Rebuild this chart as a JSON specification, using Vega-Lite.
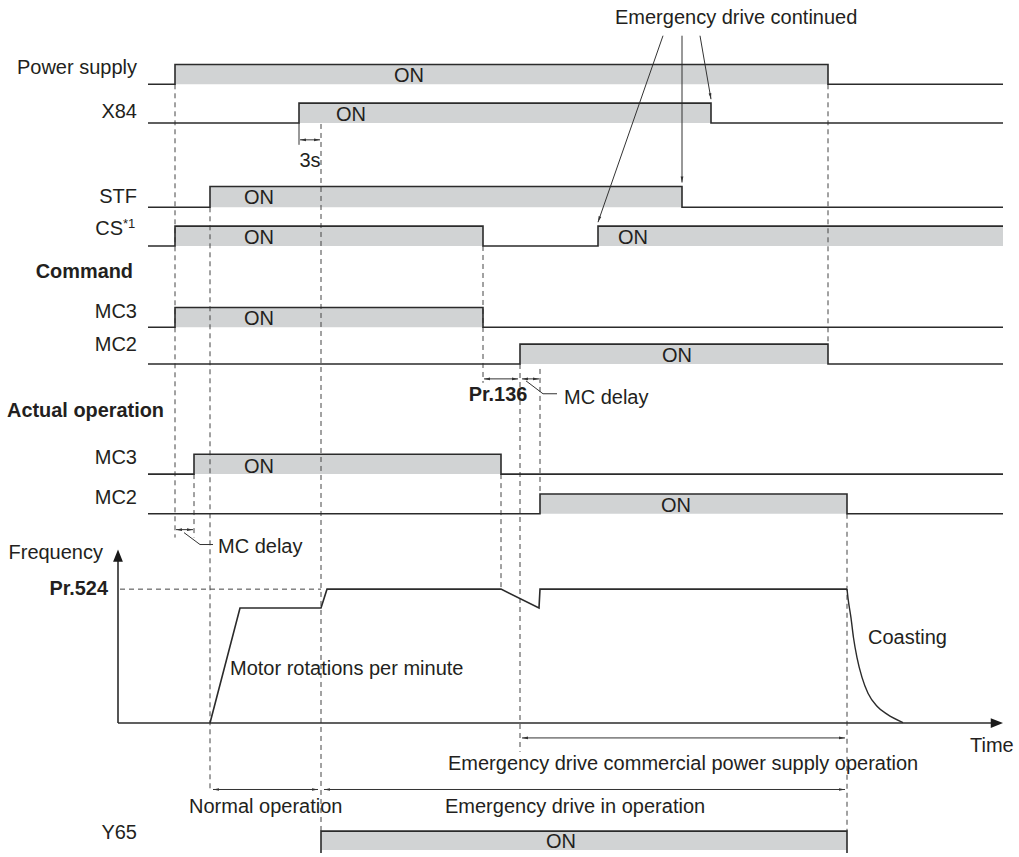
{
  "$schema": "https://vega.github.io/schema/vega-lite/v6.json",
  "width": 1019,
  "height": 857,
  "autosize": {"type": "fit", "contains": "padding"},
  "padding": 0,
  "background": "white",
  "config": {"view": {"stroke": null}, "font": "Liberation Sans"},
  "datasets": {
    "fills": [
      {"sig": "Power supply", "x": 175, "x2": 828, "y": 65, "y2": 85},
      {"sig": "X84", "x": 299, "x2": 711, "y": 104, "y2": 124},
      {"sig": "STF", "x": 210, "x2": 682, "y": 188, "y2": 209},
      {"sig": "CS", "x": 175, "x2": 483, "y": 228, "y2": 248},
      {"sig": "CS", "x": 598, "x2": 1003, "y": 228, "y2": 248},
      {"sig": "MC3 command", "x": 175, "x2": 483, "y": 310, "y2": 330},
      {"sig": "MC2 command", "x": 520, "x2": 828, "y": 347, "y2": 367},
      {"sig": "MC3 actual", "x": 194, "x2": 501, "y": 458, "y2": 478},
      {"sig": "MC2 actual", "x": 540, "x2": 847, "y": 498, "y2": 518},
      {"sig": "Y65", "x": 321, "x2": 847, "y": 838, "y2": 857}
    ],
    "waves": [
      {"sig": "Power supply", "i": 1, "x": 148, "y": 85},
      {"sig": "Power supply", "i": 2, "x": 175, "y": 85},
      {"sig": "Power supply", "i": 3, "x": 175, "y": 65},
      {"sig": "Power supply", "i": 4, "x": 828, "y": 65},
      {"sig": "Power supply", "i": 5, "x": 828, "y": 85},
      {"sig": "Power supply", "i": 6, "x": 1003, "y": 85},
      {"sig": "X84", "i": 1, "x": 148, "y": 124},
      {"sig": "X84", "i": 2, "x": 299, "y": 124},
      {"sig": "X84", "i": 3, "x": 299, "y": 104},
      {"sig": "X84", "i": 4, "x": 711, "y": 104},
      {"sig": "X84", "i": 5, "x": 711, "y": 124},
      {"sig": "X84", "i": 6, "x": 1003, "y": 124},
      {"sig": "STF", "i": 1, "x": 148, "y": 209},
      {"sig": "STF", "i": 2, "x": 210, "y": 209},
      {"sig": "STF", "i": 3, "x": 210, "y": 188},
      {"sig": "STF", "i": 4, "x": 682, "y": 188},
      {"sig": "STF", "i": 5, "x": 682, "y": 209},
      {"sig": "STF", "i": 6, "x": 1003, "y": 209},
      {"sig": "CS", "i": 1, "x": 148, "y": 248},
      {"sig": "CS", "i": 2, "x": 175, "y": 248},
      {"sig": "CS", "i": 3, "x": 175, "y": 228},
      {"sig": "CS", "i": 4, "x": 483, "y": 228},
      {"sig": "CS", "i": 5, "x": 483, "y": 248},
      {"sig": "CS", "i": 6, "x": 598, "y": 248},
      {"sig": "CS", "i": 7, "x": 598, "y": 228},
      {"sig": "CS", "i": 8, "x": 1003, "y": 228},
      {"sig": "MC3 command", "i": 1, "x": 148, "y": 330},
      {"sig": "MC3 command", "i": 2, "x": 175, "y": 330},
      {"sig": "MC3 command", "i": 3, "x": 175, "y": 310},
      {"sig": "MC3 command", "i": 4, "x": 483, "y": 310},
      {"sig": "MC3 command", "i": 5, "x": 483, "y": 330},
      {"sig": "MC3 command", "i": 6, "x": 1003, "y": 330},
      {"sig": "MC2 command", "i": 1, "x": 148, "y": 367},
      {"sig": "MC2 command", "i": 2, "x": 520, "y": 367},
      {"sig": "MC2 command", "i": 3, "x": 520, "y": 347},
      {"sig": "MC2 command", "i": 4, "x": 828, "y": 347},
      {"sig": "MC2 command", "i": 5, "x": 828, "y": 367},
      {"sig": "MC2 command", "i": 6, "x": 1003, "y": 367},
      {"sig": "MC3 actual", "i": 1, "x": 148, "y": 478},
      {"sig": "MC3 actual", "i": 2, "x": 194, "y": 478},
      {"sig": "MC3 actual", "i": 3, "x": 194, "y": 458},
      {"sig": "MC3 actual", "i": 4, "x": 501, "y": 458},
      {"sig": "MC3 actual", "i": 5, "x": 501, "y": 478},
      {"sig": "MC3 actual", "i": 6, "x": 1003, "y": 478},
      {"sig": "MC2 actual", "i": 1, "x": 148, "y": 518},
      {"sig": "MC2 actual", "i": 2, "x": 540, "y": 518},
      {"sig": "MC2 actual", "i": 3, "x": 540, "y": 498},
      {"sig": "MC2 actual", "i": 4, "x": 847, "y": 498},
      {"sig": "MC2 actual", "i": 5, "x": 847, "y": 518},
      {"sig": "MC2 actual", "i": 6, "x": 1003, "y": 518},
      {"sig": "Y65", "i": 1, "x": 321, "y": 860},
      {"sig": "Y65", "i": 2, "x": 321, "y": 838},
      {"sig": "Y65", "i": 3, "x": 847, "y": 838},
      {"sig": "Y65", "i": 4, "x": 847, "y": 860},
      {"sig": "Frequency", "i": 1, "x": 210, "y": 729},
      {"sig": "Frequency", "i": 2, "x": 240, "y": 613},
      {"sig": "Frequency", "i": 3, "x": 321, "y": 613},
      {"sig": "Frequency", "i": 4, "x": 327, "y": 594},
      {"sig": "Frequency", "i": 5, "x": 501, "y": 594},
      {"sig": "Frequency", "i": 6, "x": 539, "y": 613},
      {"sig": "Frequency", "i": 7, "x": 540, "y": 594},
      {"sig": "Frequency", "i": 8, "x": 847, "y": 594}
    ],
    "coast": [
      {"x": 847, "y": 594},
      {"x": 848, "y": 603},
      {"x": 851, "y": 623},
      {"x": 853.5, "y": 643},
      {"x": 857, "y": 663},
      {"x": 862, "y": 683},
      {"x": 868, "y": 699},
      {"x": 877, "y": 712},
      {"x": 887, "y": 720},
      {"x": 903, "y": 728.5}
    ],
    "dashes": [
      {"x": 175, "x2": 175, "y": 85, "y2": 542},
      {"x": 210, "x2": 210, "y": 209, "y2": 797},
      {"x": 321, "x2": 321, "y": 125, "y2": 838},
      {"x": 194, "x2": 194, "y": 478, "y2": 542},
      {"x": 483, "x2": 483, "y": 248, "y2": 386},
      {"x": 501, "x2": 501, "y": 478, "y2": 594},
      {"x": 520, "x2": 520, "y": 367, "y2": 758},
      {"x": 540, "x2": 540, "y": 372, "y2": 498},
      {"x": 828, "x2": 828, "y": 85, "y2": 347},
      {"x": 847, "x2": 847, "y": 518, "y2": 838},
      {"x": 120, "x2": 321, "y": 594, "y2": 594}
    ],
    "segments": [
      {"x": 299, "x2": 299, "y": 124, "y2": 146},
      {"x": 300, "x2": 320, "y": 141, "y2": 141},
      {"x": 484, "x2": 518, "y": 382, "y2": 382},
      {"x": 522, "x2": 539, "y": 382, "y2": 382},
      {"x": 176, "x2": 193, "y": 534, "y2": 534},
      {"x": 522, "x2": 845, "y": 744, "y2": 744},
      {"x": 213, "x2": 318, "y": 796, "y2": 796},
      {"x": 324, "x2": 845, "y": 796, "y2": 796},
      {"x": 526, "x2": 543, "y": 384, "y2": 397},
      {"x": 543, "x2": 557, "y": 397, "y2": 397},
      {"x": 184, "x2": 200, "y": 537, "y2": 549},
      {"x": 200, "x2": 213, "y": 549, "y2": 549},
      {"x": 663, "x2": 598, "y": 36, "y2": 224},
      {"x": 682, "x2": 682, "y": 36, "y2": 184},
      {"x": 700, "x2": 711, "y": 36, "y2": 100}
    ],
    "axes": [
      {"x": 118, "x2": 118, "y": 560, "y2": 729},
      {"x": 118, "x2": 993, "y": 729, "y2": 729}
    ],
    "heads": [
      {"x": 300, "y": 141, "ang": 270},
      {"x": 320, "y": 141, "ang": 90},
      {"x": 484, "y": 382, "ang": 270},
      {"x": 518, "y": 382, "ang": 90},
      {"x": 522, "y": 382, "ang": 270},
      {"x": 539, "y": 382, "ang": 90},
      {"x": 176, "y": 534, "ang": 270},
      {"x": 193, "y": 534, "ang": 90},
      {"x": 522, "y": 744, "ang": 270},
      {"x": 845, "y": 744, "ang": 90},
      {"x": 213, "y": 796, "ang": 270},
      {"x": 318, "y": 796, "ang": 90},
      {"x": 324, "y": 796, "ang": 270},
      {"x": 845, "y": 796, "ang": 90},
      {"x": 598, "y": 224, "ang": 199},
      {"x": 682, "y": 184, "ang": 180},
      {"x": 711, "y": 100, "ang": 170}
    ],
    "axisHeads": [
      {"x": 118, "y": 554, "ang": 0},
      {"x": 1003, "y": 729, "ang": 90}
    ],
    "labels": [
      {"role": "signal", "x": 137, "y": 69, "text": "Power supply"},
      {"role": "signal", "x": 137, "y": 113, "text": "X84"},
      {"role": "signal", "x": 137, "y": 199, "text": "STF"},
      {"role": "signal", "x": 123, "y": 231, "text": "CS"},
      {"role": "signal", "x": 137, "y": 315, "text": "MC3"},
      {"role": "signal", "x": 137, "y": 348, "text": "MC2"},
      {"role": "signal", "x": 137, "y": 462, "text": "MC3"},
      {"role": "signal", "x": 137, "y": 502, "text": "MC2"},
      {"role": "signal", "x": 137, "y": 840, "text": "Y65"},
      {"role": "signal", "x": 103, "y": 558, "text": "Frequency"},
      {"role": "header", "x": 133, "y": 274, "text": "Command"},
      {"role": "header", "x": 164, "y": 414, "text": "Actual operation"},
      {"role": "header", "x": 108, "y": 594, "text": "Pr.524"},
      {"role": "sup", "x": 123, "y": 226, "text": "*1"},
      {"role": "state", "x": 409, "y": 77, "text": "ON"},
      {"role": "state", "x": 351, "y": 116, "text": "ON"},
      {"role": "state", "x": 259, "y": 200, "text": "ON"},
      {"role": "state", "x": 259, "y": 240, "text": "ON"},
      {"role": "state", "x": 633, "y": 240, "text": "ON"},
      {"role": "state", "x": 259, "y": 322, "text": "ON"},
      {"role": "state", "x": 677, "y": 359, "text": "ON"},
      {"role": "state", "x": 259, "y": 471, "text": "ON"},
      {"role": "state", "x": 676, "y": 510, "text": "ON"},
      {"role": "state", "x": 561, "y": 849, "text": "ON"},
      {"role": "state", "x": 310, "y": 162, "text": "3s"},
      {"role": "param", "x": 498, "y": 398, "text": "Pr.136"},
      {"role": "note", "x": 615, "y": 18, "text": "Emergency drive continued"},
      {"role": "note", "x": 564, "y": 401, "text": "MC delay"},
      {"role": "note", "x": 218, "y": 552, "text": "MC delay"},
      {"role": "note", "x": 230, "y": 675, "text": "Motor rotations per minute"},
      {"role": "note", "x": 868, "y": 643, "text": "Coasting"},
      {"role": "note", "x": 970, "y": 752, "text": "Time"},
      {"role": "note", "x": 448, "y": 770, "text": "Emergency drive commercial power supply operation"},
      {"role": "note", "x": 189, "y": 814, "text": "Normal operation"},
      {"role": "note", "x": 445, "y": 814, "text": "Emergency drive in operation"}
    ]
  },
  "layer": [
    {
      "data": {"name": "fills"},
      "mark": {"type": "rect", "fill": "#d1d3d4"},
      "encoding": {
        "x": {"field": "x", "type": "quantitative", "scale": {"domain": [0, 1019], "nice": false, "zero": false}, "axis": null},
        "x2": {"field": "x2"},
        "y": {"field": "y", "type": "quantitative", "scale": {"domain": [0, 857], "nice": false, "zero": false, "reverse": true}, "axis": null},
        "y2": {"field": "y2"}
      }
    },
    {
      "data": {"name": "dashes"},
      "mark": {"type": "rule", "stroke": "#444444", "strokeWidth": 1, "strokeDash": [5, 4]},
      "encoding": {
        "x": {"field": "x", "type": "quantitative", "axis": null},
        "x2": {"field": "x2"},
        "y": {"field": "y", "type": "quantitative", "axis": null},
        "y2": {"field": "y2"}
      }
    },
    {
      "data": {"name": "segments"},
      "mark": {"type": "rule", "stroke": "#333333", "strokeWidth": 1},
      "encoding": {
        "x": {"field": "x", "type": "quantitative", "axis": null},
        "x2": {"field": "x2"},
        "y": {"field": "y", "type": "quantitative", "axis": null},
        "y2": {"field": "y2"}
      }
    },
    {
      "data": {"name": "axes"},
      "mark": {"type": "rule", "stroke": "#2b2b2b", "strokeWidth": 1.6},
      "encoding": {
        "x": {"field": "x", "type": "quantitative", "axis": null},
        "x2": {"field": "x2"},
        "y": {"field": "y", "type": "quantitative", "axis": null},
        "y2": {"field": "y2"}
      }
    },
    {
      "data": {"name": "waves"},
      "mark": {"type": "line", "stroke": "#2b2b2b", "strokeWidth": 1.6, "strokeJoin": "miter"},
      "encoding": {
        "x": {"field": "x", "type": "quantitative", "axis": null},
        "y": {"field": "y", "type": "quantitative", "axis": null},
        "detail": {"field": "sig"},
        "order": {"field": "i", "type": "quantitative"}
      }
    },
    {
      "data": {"name": "coast"},
      "mark": {"type": "line", "stroke": "#2b2b2b", "strokeWidth": 1.4, "interpolate": "monotone"},
      "encoding": {
        "x": {"field": "x", "type": "quantitative", "axis": null},
        "y": {"field": "y", "type": "quantitative", "axis": null}
      }
    },
    {
      "data": {"name": "heads"},
      "mark": {"type": "point", "shape": "M0,0L-0.45,2L0.45,2Z", "filled": true, "fill": "#333333", "strokeWidth": 0, "size": 36, "opacity": 1},
      "encoding": {
        "x": {"field": "x", "type": "quantitative", "axis": null},
        "y": {"field": "y", "type": "quantitative", "axis": null},
        "angle": {"field": "ang", "type": "quantitative", "scale": null}
      }
    },
    {
      "data": {"name": "axisHeads"},
      "mark": {"type": "point", "shape": "M0,0L-0.8,2L0.8,2Z", "filled": true, "fill": "#1a1a1a", "strokeWidth": 0, "size": 150, "opacity": 1},
      "encoding": {
        "x": {"field": "x", "type": "quantitative", "axis": null},
        "y": {"field": "y", "type": "quantitative", "axis": null},
        "angle": {"field": "ang", "type": "quantitative", "scale": null}
      }
    },
    {
      "data": {"name": "labels"},
      "transform": [{"filter": "datum.role === 'signal'"}],
      "mark": {"type": "text", "align": "right", "baseline": "middle", "fontSize": 20, "fill": "#231f20"},
      "encoding": {
        "x": {"field": "x", "type": "quantitative", "axis": null},
        "y": {"field": "y", "type": "quantitative", "axis": null},
        "text": {"field": "text"}
      }
    },
    {
      "data": {"name": "labels"},
      "transform": [{"filter": "datum.role === 'header'"}],
      "mark": {"type": "text", "align": "right", "baseline": "middle", "fontSize": 19.9, "fontWeight": "bold", "fill": "#231f20"},
      "encoding": {
        "x": {"field": "x", "type": "quantitative", "axis": null},
        "y": {"field": "y", "type": "quantitative", "axis": null},
        "text": {"field": "text"}
      }
    },
    {
      "data": {"name": "labels"},
      "transform": [{"filter": "datum.role === 'sup'"}],
      "mark": {"type": "text", "align": "left", "baseline": "middle", "fontSize": 13, "fill": "#231f20"},
      "encoding": {
        "x": {"field": "x", "type": "quantitative", "axis": null},
        "y": {"field": "y", "type": "quantitative", "axis": null},
        "text": {"field": "text"}
      }
    },
    {
      "data": {"name": "labels"},
      "transform": [{"filter": "datum.role === 'state'"}],
      "mark": {"type": "text", "align": "center", "baseline": "middle", "fontSize": 20, "fill": "#231f20"},
      "encoding": {
        "x": {"field": "x", "type": "quantitative", "axis": null},
        "y": {"field": "y", "type": "quantitative", "axis": null},
        "text": {"field": "text"}
      }
    },
    {
      "data": {"name": "labels"},
      "transform": [{"filter": "datum.role === 'param'"}],
      "mark": {"type": "text", "align": "center", "baseline": "middle", "fontSize": 19.9, "fontWeight": "bold", "fill": "#231f20"},
      "encoding": {
        "x": {"field": "x", "type": "quantitative", "axis": null},
        "y": {"field": "y", "type": "quantitative", "axis": null},
        "text": {"field": "text"}
      }
    },
    {
      "data": {"name": "labels"},
      "transform": [{"filter": "datum.role === 'note'"}],
      "mark": {"type": "text", "align": "left", "baseline": "middle", "fontSize": 20, "fill": "#231f20"},
      "encoding": {
        "x": {"field": "x", "type": "quantitative", "axis": null},
        "y": {"field": "y", "type": "quantitative", "axis": null},
        "text": {"field": "text"}
      }
    }
  ]
}
